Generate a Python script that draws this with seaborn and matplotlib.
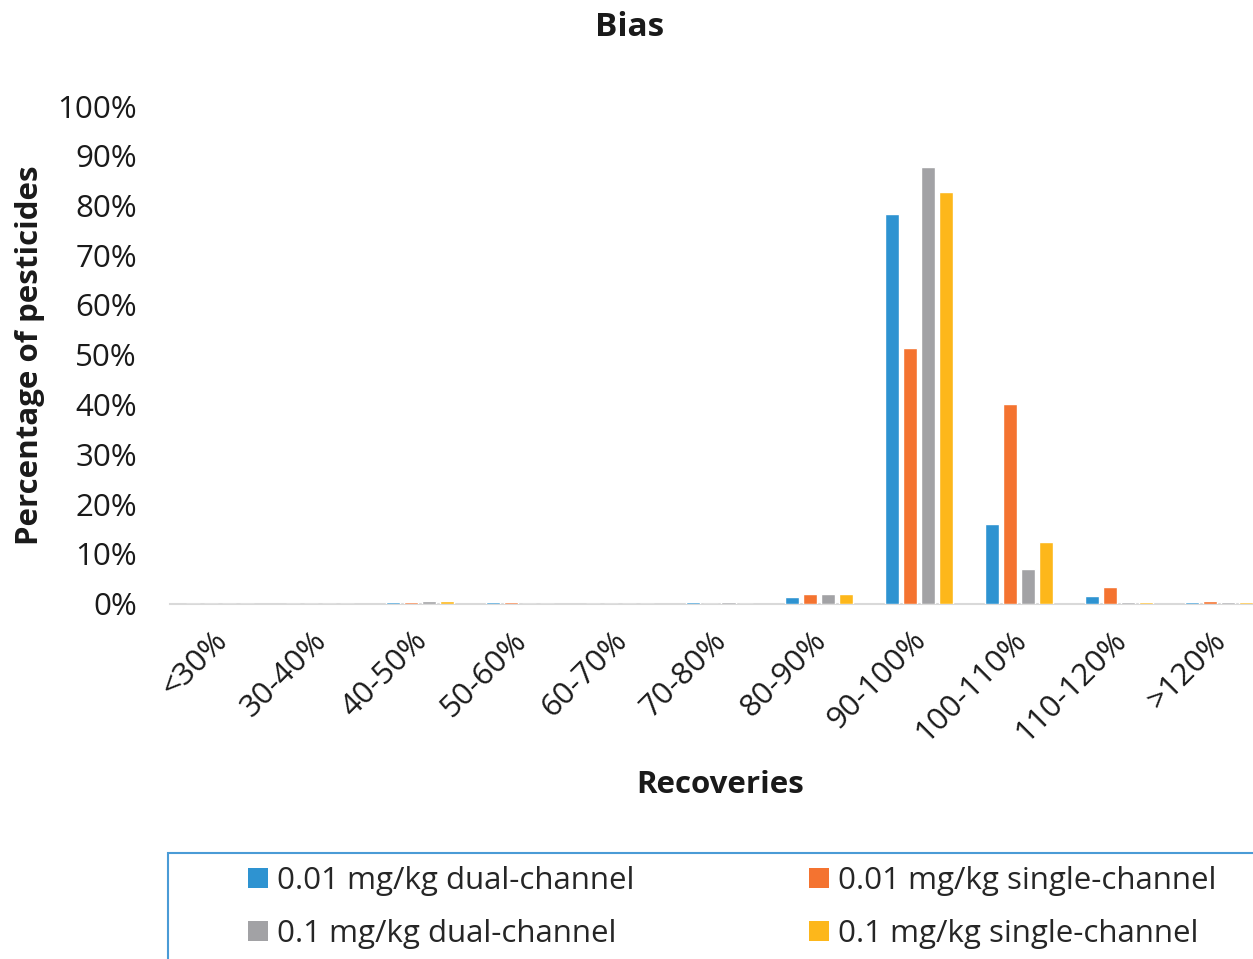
import numpy as np
import pandas as pd
import matplotlib
matplotlib.use("Agg")
import matplotlib.pyplot as plt
import matplotlib.transforms as mtransforms
import seaborn as sns
from matplotlib.patches import Rectangle, Patch

categories = ["<30%", "30-40%", "40-50%", "50-60%", "60-70%", "70-80%",
              "80-90%", "90-100%", "100-110%", "110-120%", ">120%"]
series_names = ["0.01 mg/kg dual-channel", "0.01 mg/kg single-channel",
                "0.1 mg/kg dual-channel", "0.1 mg/kg single-channel"]
dual_001 = [0.0, 0.0, 0.3, 0.3, 0.0, 0.3, 1.3, 78.2, 16.0, 1.6, 0.3]
single_001 = [0.0, 0.0, 0.3, 0.3, 0.0, 0.0, 2.0, 51.4, 40.1, 3.4, 0.6]
dual_01 = [0.0, 0.0, 0.6, 0.0, 0.0, 0.3, 2.0, 87.8, 6.9, 0.3, 0.3]
single_01 = [0.0, 0.0, 0.6, 0.0, 0.0, 0.0, 2.0, 82.8, 12.4, 0.3, 0.3]
colors = ["#2E93D1", "#F47330", "#A2A2A5", "#FDB71B"]

rows = []
for name, vals in zip(series_names, [dual_001, single_001, dual_01, single_01]):
    for c, v in zip(categories, vals):
        rows.append({"Recoveries": c, "value": v / 100.0, "series": name})
df = pd.DataFrame(rows)

sns.set_theme(style="white")
plt.rcParams["font.family"] = ["Open Sans", "DejaVu Sans"]
TXT = "#1a1a1a"
FS = 22.5

W, H = 1253, 959
fig = plt.figure(figsize=(W / 100, H / 100), dpi=100)
left, right = 170 / W, 1269 / W
bottom, top = 1 - 603.5 / H, 1 - 106 / H
ax = fig.add_axes([left, bottom, right - left, top - bottom])

sns.barplot(data=df, x="Recoveries", y="value", hue="series", order=categories,
            hue_order=series_names, palette=colors, width=0.72, gap=0.22,
            ax=ax, legend=False, saturation=1, zorder=3)

ax.set_xlim(-0.5, 10.5)
ax.set_ylim(0, 1.0)
yt = np.arange(0, 1.01, 0.1)
ax.set_yticks(yt)
ax.set_yticklabels([f"{int(round(t*100))}%" for t in yt], fontsize=FS, color=TXT)
ax.tick_params(axis="y", length=0, pad=23.8)
ax.tick_params(axis="x", length=0, pad=10)
ax.set_xticks(range(len(categories)))
ax.set_xticklabels(categories, rotation=45, ha="right", rotation_mode="anchor",
                   fontsize=FS, color=TXT)
offset = mtransforms.ScaledTranslation(-8 / 100, -8 / 100, fig.dpi_scale_trans)
for lab in ax.get_xticklabels():
    lab.set_transform(lab.get_transform() + offset)
for s in ["top", "right", "left"]:
    ax.spines[s].set_visible(False)
ax.spines["bottom"].set_color("#D9D9D9")
ax.spines["bottom"].set_linewidth(1.5)
ax.spines["bottom"].set_zorder(1)
ax.set_xlabel("Recoveries", fontsize=FS, fontweight="bold", color=TXT)
ax.set_ylabel("Percentage of pesticides", fontsize=FS, fontweight="bold", color=TXT)
axw, axh = 1099, 497.5
ax.yaxis.set_label_coords((30 - 170) / axw, 0.5)
ax.yaxis.label.set_va("center")
ax.xaxis.set_label_coords((720 - 170) / axw, -(785 - 603.5) / axh)
ax.xaxis.label.set_va("center")

fig.text(630 / W, 1 - 28 / H, "Bias", ha="center", va="center",
         fontsize=24, fontweight="bold", color=TXT)

# legend frame
fig.patches.append(Rectangle((168 / W, -0.05), 1.1, (959 - 853) / H + 0.05,
                             transform=fig.transFigure, fill=False,
                             edgecolor="#4A9BD6", linewidth=1.5))
handles = [Patch(facecolor=c, edgecolor="none") for c in colors]
order = [0, 2, 1, 3]
fig.legend([handles[i] for i in order], [series_names[i] for i in order],
           loc="upper left", bbox_to_anchor=(220 / W, 1 - 838 / H), ncol=2,
           frameon=False, fontsize=FS, handlelength=0.62, handleheight=0.62,
           handletextpad=0.3, columnspacing=5.6, labelspacing=0.72)

fig.savefig("out.png", dpi=100)
